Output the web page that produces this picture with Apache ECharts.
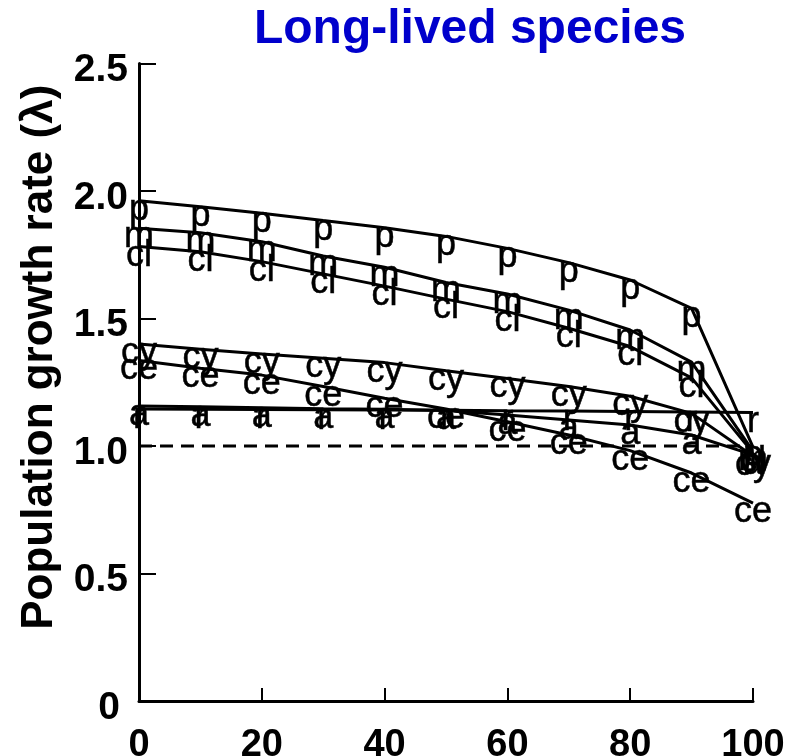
<!DOCTYPE html>
<html><head><meta charset="utf-8">
<script src="https://cdn.jsdelivr.net/npm/echarts@6/dist/echarts.min.js"></script>
<style>html,body{margin:0;padding:0;background:#fff}#c{width:804px;height:756px}</style>
</head><body><div id="c"></div>
<script>
// Data
const xValues = [0, 10, 20, 30, 40, 50, 60, 70, 80, 90, 100];
const xTicks = [0, 20, 40, 60, 80, 100];
const yTicks = [0, 0.5, 1.0, 1.5, 2.0, 2.5];
const speciesNames = ['p', 'm', 'cl', 'cy', 'ce', 'a', 'r'];
const p  = [1.962, 1.938, 1.913, 1.884, 1.856, 1.822, 1.775, 1.719, 1.651, 1.540, 0.996];
const m  = [1.854, 1.836, 1.801, 1.745, 1.701, 1.641, 1.596, 1.533, 1.455, 1.329, 0.980];
const cl = [1.782, 1.762, 1.723, 1.675, 1.627, 1.576, 1.527, 1.462, 1.390, 1.267, 0.973];
const cy = [1.400, 1.379, 1.361, 1.344, 1.327, 1.295, 1.265, 1.233, 1.195, 1.128, 0.961];
const ce = [1.335, 1.305, 1.278, 1.233, 1.187, 1.145, 1.095, 1.043, 0.982, 0.894, 0.776];
const a  = [1.157, 1.154, 1.150, 1.146, 1.144, 1.139, 1.122, 1.102, 1.082, 1.043, 0.965];
const r  = [1.145, 1.144, 1.143, 1.142, 1.141, 1.140, 1.138, 1.137, 1.135, 1.133, 1.131];
const refX = [0, 100];
const refY = [1.0, 1.0];

const speciesValues = {p, m, cl, cy, ce, a, r};

const FONT = 'Liberation Sans, Arial, sans-serif';
const series = [];
series.push({
  type: 'line', name: 'λ = 1', silent: true, symbol: 'none',
  data: refX.map((x, i) => [x, refY[i]]),
  lineStyle: {color: '#000', width: 3, type: [13, 8]}, z: 1
});
speciesNames.forEach(name => {
  const vals = speciesValues[name];
  const pts = xValues.map((x, i) => [x, vals[i]]);
  series.push({
    type: 'line', name: name, silent: true, symbol: 'none',
    data: pts, lineStyle: {color: '#000', width: 3}, z: 2
  });
  series.push({
    type: 'scatter', name: name + ' labels', silent: true,
    data: pts, symbolSize: 1, itemStyle: {color: 'rgba(0,0,0,0)'},
    label: {
      show: true, position: 'inside', formatter: name, offset: [0, 9],
      color: '#000', opacity: 1, fontSize: 36, fontFamily: FONT,
      textBorderColor: '#000', textBorderWidth: 0.5
    }, z: 3
  });
});

const chart = echarts.init(document.getElementById('c'), null, {renderer: 'canvas'});
chart.setOption({
  animation: false,
  backgroundColor: '#fff',
  title: {
    text: 'Long-lived species', left: 465, top: 1, textAlign: 'center',
    textStyle: {color: '#0000CC', fontSize: 48, fontWeight: 'bold', fontFamily: FONT}
  },
  grid: {left: 139, right: 51, top: 63.5, bottom: 55, containLabel: false, outerBoundsMode: 'none'},
  xAxis: {
    type: 'value', min: 0, max: 100, interval: 20,
    axisLine: {show: true, onZero: false, lineStyle: {color: '#000', width: 3}},
    axisTick: {show: true, inside: true, length: 13, lineStyle: {color: '#000', width: 2}},
    splitLine: {show: false},
    axisLabel: {
      margin: 26, color: '#000', fontSize: 38, fontWeight: 'bold', fontFamily: FONT,
      customValues: xTicks, formatter: v => String(v)
    }
  },
  yAxis: {
    type: 'value', min: 0, max: 2.5, interval: 0.5,
    name: 'Population growth rate (λ)', nameLocation: 'middle', nameGap: 77, nameRotate: 90,
    nameTextStyle: {color: '#000', fontSize: 44, fontWeight: 'bold', fontFamily: FONT, padding: [0, 0, 0, 50]},
    axisLine: {show: true, onZero: false, lineStyle: {color: '#000', width: 3}},
    axisTick: {show: true, inside: true, length: 17, lineStyle: {color: '#000', width: 2}},
    splitLine: {show: false},
    axisLabel: {
      margin: 11, padding: [14, 0, 0, 0], color: '#000', fontSize: 39, fontWeight: 'bold', fontFamily: FONT,
      customValues: yTicks,
      formatter: v => (v === 0 ? '{z|0}' : v.toFixed(1)),
      rich: {z: {fontSize: 39, fontWeight: 'bold', fontFamily: FONT, color: '#000', padding: [0, 8, 0, 0]}}
    }
  },
  series: series
});
</script></body></html>
